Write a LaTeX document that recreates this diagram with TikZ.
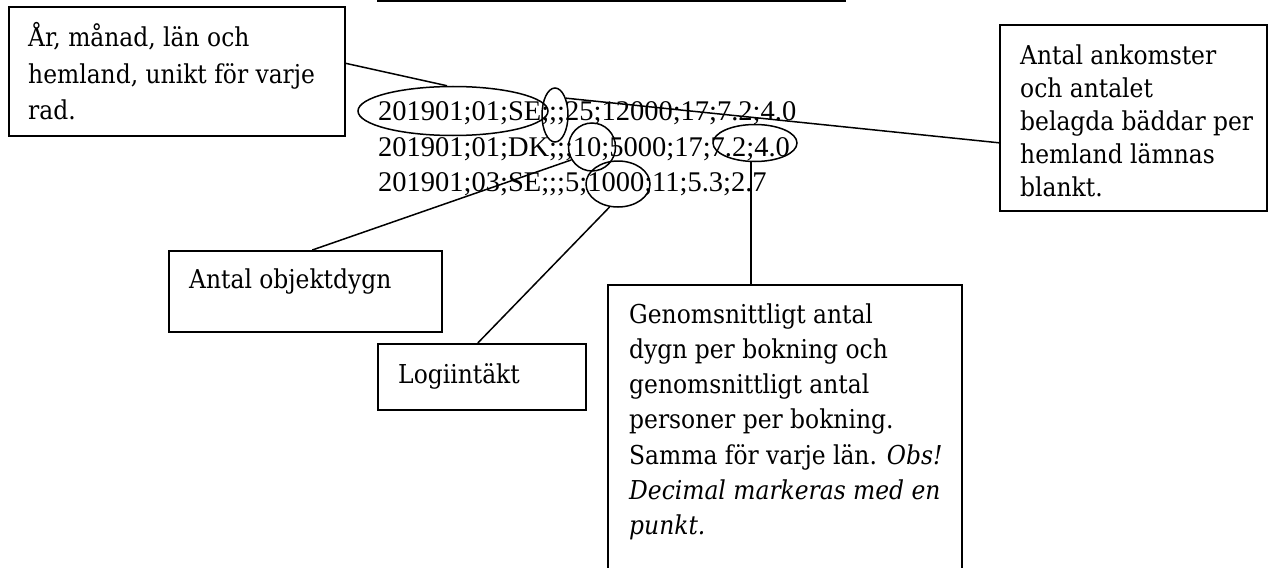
\documentclass[tikz,border=0pt]{standalone}
\usepackage{fontspec}
\setmainfont{Liberation Serif}
\newfontfamily\boxfamily{DejaVu Serif Condensed}
\usetikzlibrary{shapes.geometric}
\newcommand\mybtext[2]{\parbox[t]{500pt}{\boxfamily\fontsize{26}{#1}\selectfont #2}}
\newcommand\mydtext[1]{\parbox[t]{600pt}{\fontsize{28.5}{35.5}\selectfont #1}}
\tikzset{
  box/.style={draw, line width=1.6pt, inner sep=0pt, anchor=north west},
  oval/.style={draw, ellipse, line width=1.5pt, inner sep=0pt},
  conn/.style={line width=1.5pt},
  txt/.style={anchor=base west, inner sep=0pt},
}
\begin{document}
\begin{tikzpicture}[x=1pt,y=-1pt]
\useasboundingbox (0,0) rectangle (1273,567);
\clip (0,0) rectangle (1273,567);

% heading underline (text cut off)
\draw[line width=2pt] (377,1) -- (846,1);

% boxes
\node[box, minimum width=336pt, minimum height=129pt] (A) at (8,6) {};
\node[box, minimum width=267pt, minimum height=186pt] (B) at (999,24) {};
\node[box, minimum width=354pt, minimum height=320pt] (C) at (607,284) {};
\node[box, minimum width=273pt, minimum height=81pt] (D) at (168,250) {};
\node[box, minimum width=208pt, minimum height=66pt] (E) at (377,343) {};

% box texts
\node[txt] (tA) at (28,47) {\mybtext{36.5}{År, månad, län och\\hemland, unikt för varje\\rad.}};
\node[txt] (tB) at (1020,65) {\mybtext{33}{Antal ankomster\\och antalet\\belagda bäddar per\\hemland lämnas\\blankt.}};
\node[txt] (tC) at (629,323) {\mybtext{35.3}{Genomsnittligt antal\\dygn per bokning och\\genomsnittligt antal\\personer per bokning.\\Samma för varje län. \textit{Obs!}\\\textit{Decimal markeras med en}\\\textit{punkt.}}};
\node[txt] (tD) at (189,288) {\mybtext{33}{Antal objektdygn}};
\node[txt] (tE) at (398,383) {\mybtext{33}{Logiintäkt}};

% data lines
\node[txt] (data) at (378,121) {\mydtext{201901;01;SE;;;25;12000;17;7.2;4.0\\201901;01;DK;;;10;5000;17;7.2;4.0\\201901;03;SE;;;5;1000;11;5.3;2.7}};

% ellipses
\node[oval, minimum width=190pt, minimum height=49pt] (e1) at (453,111) {};
\node[oval, minimum width=26pt, minimum height=54pt] (e2) at (555,115) {};
\node[oval, minimum width=47pt, minimum height=48pt] (e3) at (592,147) {};
\node[oval, minimum width=64pt, minimum height=46pt] (e4) at (618,184) {};
\node[oval, minimum width=84pt, minimum height=37pt] (e5) at (755,143) {};

% connectors
\draw[conn] ([yshift=8pt]A.east) -- ([xshift=-6pt]e1.north);
\draw[conn] (e2.57) -- ([yshift=-25pt]B.west);
\draw[conn] ([xshift=7pt]D.north) -- (e3.212);
\draw[conn] ([xshift=-4pt]E.north) -- (e4.250);
\coordinate (c5) at ([xshift=-4pt]e5.south);
\draw[conn] (c5) -- (c5 |- C.north);
\end{tikzpicture}
\end{document}
